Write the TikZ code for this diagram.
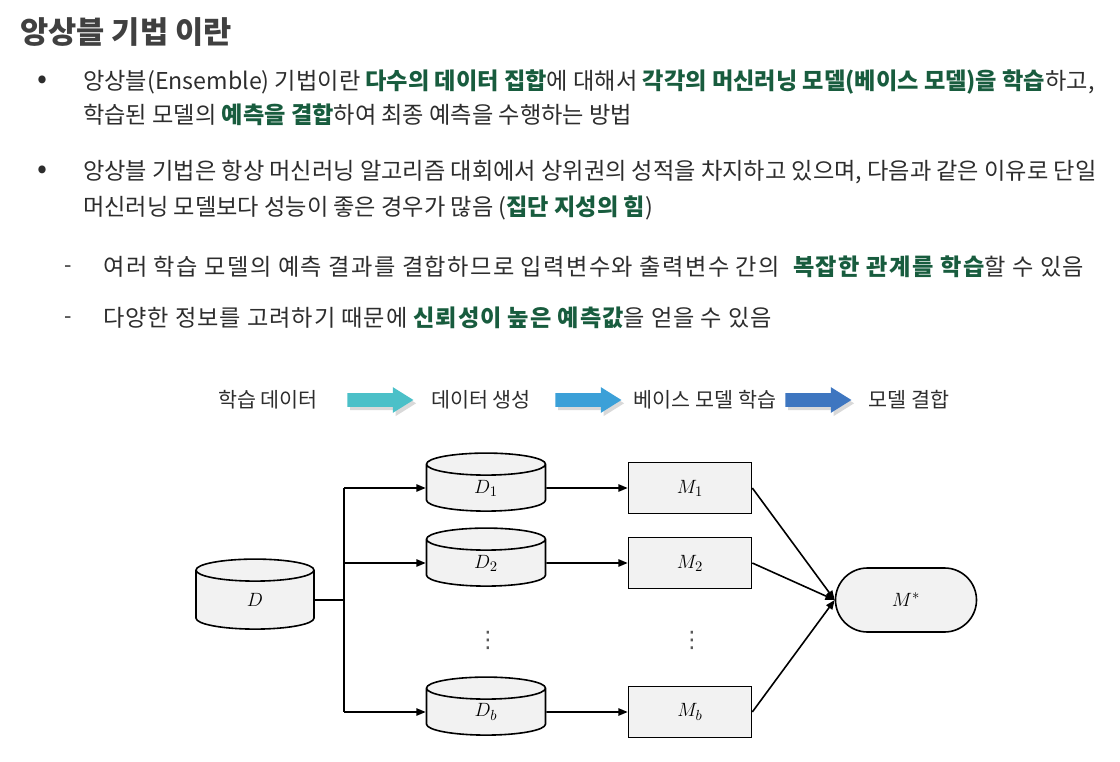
\documentclass[tikz,border=0pt]{standalone}
\usepackage[no-math]{fontspec}
\setmainfont{Noto Sans CJK KR}
\newfontfamily\symfont{DejaVu Sans}
\usetikzlibrary{positioning,shapes.geometric,shapes.misc,shapes.arrows,shadows,arrows.meta}

\definecolor{hlgreen}{RGB}{24,92,62}
\definecolor{bodytext}{RGB}{45,45,45}
\definecolor{titlegray}{RGB}{64,64,64}
\definecolor{flowA}{RGB}{75,192,200}
\definecolor{flowB}{RGB}{59,160,216}
\definecolor{flowC}{RGB}{62,118,192}
\definecolor{boxfill}{RGB}{242,242,242}
\newcommand{\hl}[1]{{\bfseries\color{hlgreen}#1}}
\newdimen\pxu \pxu=0.75pt

\begin{document}
\begin{tikzpicture}[
    x=0.75pt, y=-0.75pt,
    >={Triangle[length=7pt,width=5.5pt]},
    bodyline/.style={
        anchor=west, inner sep=0pt, text=bodytext,
        font=\fontsize{17.4pt}{20pt}\selectfont
    },
    subline/.style={bodyline, font=\fontsize{17.4pt}{20pt}\selectfont\addfontfeature{LetterSpace=#1}},
    bulletmark/.style={inner sep=0pt, text=bodytext, font=\fontsize{22pt}{24pt}\selectfont},
    dashmark/.style={inner sep=0pt, text=bodytext, font=\fontsize{16pt}{18pt}\selectfont},
    flowtext/.style={inner sep=0pt, text=bodytext, font=\fontsize{15.5pt}{18pt}\selectfont},
    flowarrow/.style={
        single arrow, draw=none, inner xsep=0pt, inner ysep=6.5\pxu,
        minimum height=66\pxu, minimum width=25\pxu,
        single arrow head extend=6\pxu, single arrow tip angle=64,
        drop shadow={shadow xshift=2pt, shadow yshift=-2.5pt, opacity=0.3}
    },
    db/.style={
        cylinder, shape border rotate=90, aspect=0.2, draw=black,
        line width=1.2pt, fill=boxfill, inner ysep=0pt, inner xsep=0pt,
        text width=110\pxu, align=center,
        font=\fontsize{15pt}{17pt}\selectfont
    },
    model/.style={
        rectangle, draw=black, line width=1.2pt, fill=boxfill,
        minimum width=123\pxu, minimum height=51\pxu, inner sep=0pt,
        font=\fontsize{15pt}{17pt}\selectfont
    },
    final/.style={
        rounded rectangle, draw=black, line width=1.2pt, fill=boxfill,
        minimum width=141\pxu, minimum height=64\pxu, inner sep=0pt,
        font=\fontsize{15pt}{17pt}\selectfont
    },
    wire/.style={line width=1.2pt, draw=black},
    vdotsmark/.style={inner sep=0pt, text=black!65, font=\symfont\fontsize{17pt}{19pt}\selectfont},
]
\useasboundingbox (0,0) rectangle (1120,762);

% ── Title ────────────────────────────────────────────────────
\node[anchor=west, inner sep=0pt, text=titlegray, font=\fontsize{23pt}{26pt}\selectfont\bfseries] (title) at (20,32) {앙상블 기법 이란};

% ── Bullets ──────────────────────────────────────────────────
\node[bulletmark] (b1) at (42,82) {•};
\node[bodyline] (l1) at (83,82) {앙상블(Ensemble) 기법이란 \hl{다수의 데이터 집합}에 대해서 \hl{각각의 머신러닝 모델(베이스 모델)을 학습}하고,};
\node[bodyline] (l2) at (83,115) {학습된 모델의 \hl{예측을 결합}하여 최종 예측을 수행하는 방법};

\node[bulletmark] (b2) at (42,172) {•};
\node[bodyline] (l3) at (83,172) {앙상블 기법은 항상 머신러닝 알고리즘 대회에서 상위권의 성적을 차지하고 있으며, 다음과 같은 이유로 단일};
\node[bodyline] (l4) at (83,208) {머신러닝 모델보다 성능이 좋은 경우가 많음 (\hl{집단 지성의 힘})};

\node[dashmark] (s1) at (68,269) {-};
\node[subline=6] (l5) at (103,267) {여러 학습 모델의 예측 결과를 결합하므로 입력변수와 출력변수 간의~ \hl{복잡한 관계를 학습}할 수 있음};
\node[dashmark] (s2) at (68,320) {-};
\node[subline=4] (l6) at (103,318) {다양한 정보를 고려하기 때문에 \hl{신뢰성이 높은 예측값}을 얻을 수 있음};

% ── Flow row ─────────────────────────────────────────────────
\node[flowtext] (f1) at (268,400) {학습 데이터};
\node[flowarrow, fill=flowA] (a1) at (375,400) {};
\node[flowtext] (f2) at (481,400) {데이터 생성};
\node[flowarrow, fill=flowB] (a2) at (583,400) {};
\node[flowtext] (f3) at (705,400) {베이스 모델 학습};
\node[flowarrow, fill=flowC] (a3) at (813,400) {};
\node[flowtext] (f4) at (909,400) {모델 결합};

% ── Ensemble diagram ─────────────────────────────────────────
\node[db, minimum width=118\pxu, minimum height=70\pxu] (D) at (255,600) {$D$};

\node[db, minimum width=119\pxu, minimum height=58\pxu] (D1) at (486,488) {$D_1$};
\node[db, minimum width=119\pxu, minimum height=58\pxu] (D2) at (486,563) {$D_2$};
\node[db, minimum width=119\pxu, minimum height=58\pxu] (Db) at (486,712) {$D_b$};
\node[vdotsmark] (dv) at (488,640) {⋮};

\node[model] (M1) at (690,488) {$M_1$};
\node[model] (M2) at (690,563) {$M_2$};
\node[model] (Mb) at (690,712) {$M_b$};
\node[vdotsmark] (mv) at (692,640) {⋮};

\node[final] (Ms) at (906,600) {$M^{*}$};

% bootstrap split
\coordinate (split) at (344,600);
\draw[wire] (D.east) -- (split);
\draw[wire] (split |- D1.west) -- (split |- Db.west);
\draw[wire, ->] (split |- D1.west) -- (D1.west);
\draw[wire, ->] (split |- D2.west) -- (D2.west);
\draw[wire, ->] (split |- Db.west) -- (Db.west);

% data -> models
\draw[wire, ->] (D1.east) -- (M1.west);
\draw[wire, ->] (D2.east) -- (M2.west);
\draw[wire, ->] (Db.east) -- (Mb.west);

% models -> combined model
\draw[wire, ->] (M1.east) -- (Ms.west);
\draw[wire, ->] (M2.east) -- (Ms.west);
\draw[wire, ->] (Mb.east) -- (Ms.west);

\end{tikzpicture}
\end{document}
